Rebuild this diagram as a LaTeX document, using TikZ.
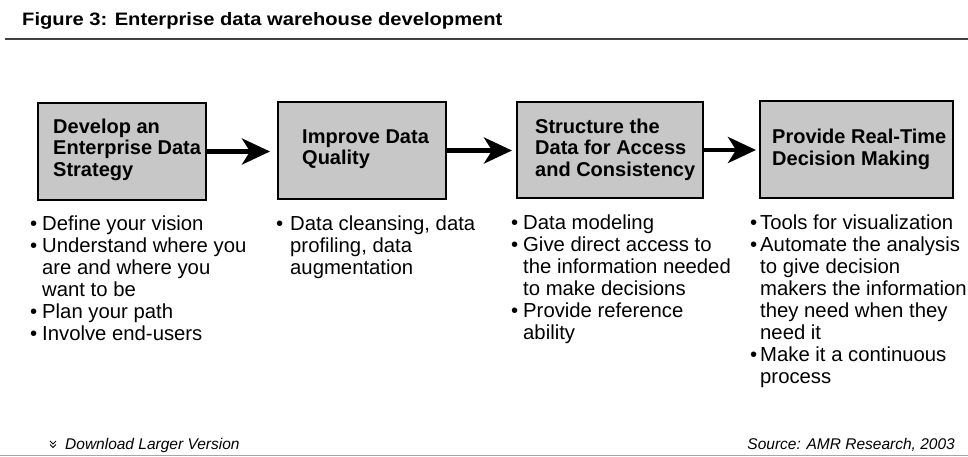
\documentclass[tikz,border=0pt]{standalone}
\usepackage{fontspec}
\setmainfont{Liberation Sans}
\newfontfamily\titlefont[FakeStretch=1.12]{Liberation Sans}
\usetikzlibrary{arrows.meta}
\newcommand\blt[1]{\makebox[#1][l]{\textbullet}}
\newcommand\ind[1]{\hspace*{#1}}
\begin{document}
\begin{tikzpicture}[x=1pt,y=-1pt,
  stagebox/.style={draw=black,line width=2pt,fill=black!22,inner sep=0pt},
  stagetext/.style={anchor=west,align=left,inner sep=0pt,font=\fontsize{20}{21.5}\selectfont\bfseries},
  bullets/.style={anchor=north west,align=left,inner sep=0pt,font=\fontsize{20.3}{22}\selectfont},
  flow/.style={line width=4.5pt,-{Stealth[length=28pt,width=26pt,inset=8pt]}},
  foot/.style={inner sep=0pt,font=\fontsize{15.5}{18}\selectfont\itshape}]
\useasboundingbox (0,0) rectangle (968,456);
\fill[white] (0,0) rectangle (968,456);
% title
\node[anchor=base west,inner sep=0pt,font=\titlefont\fontsize{18}{20}\selectfont\bfseries] (title) at (22,25) {Figure 3: Enterprise data warehouse development};
\draw[line width=1.3pt,black!75] (5,39) -- (968,39);
% boxes
\node[stagebox,minimum width=168pt,minimum height=97pt] (b1) at (122,151.5) {};
\node[stagebox,minimum width=168pt,minimum height=97pt] (b2) at (362,150.5) {};
\node[stagebox,minimum width=186pt,minimum height=96pt] (b3) at (610,150) {};
\node[stagebox,minimum width=193pt,minimum height=97pt] (b4) at (856.5,149.5) {};
\node[stagetext] (t1) at (53,149.5) {Develop an\\Enterprise Data\\Strategy};
\node[stagetext] (t2) at (302,149) {Improve Data\\Quality};
\node[stagetext] (t3) at (535,149.5) {Structure the\\Data for Access\\and Consistency};
\node[stagetext] (t4) at (772,149.5) {Provide Real-Time\\Decision Making};
% arrows
\draw[flow,shorten >=7pt] (b1.east) -- (b1.east -| b2.west);
\draw[flow,shorten >=4pt] (b2.east) -- (b2.east -| b3.west);
\draw[flow,shorten >=3pt] (b3.east) -- (b3.east -| b4.west);
% bullet lists
\node[bullets] (l1) at (30,216) {\blt{12pt}Define your vision\\\blt{12pt}Understand where you\\\ind{12pt}are and where you\\\ind{12pt}want to be\\\blt{12pt}Plan your path\\\blt{12pt}Involve end-users};
\node[bullets] (l2) at (276,216) {\blt{14pt}Data cleansing, data\\\ind{14pt}profiling, data\\\ind{14pt}augmentation};
\node[bullets] (l3) at (511,215) {\blt{12pt}Data modeling\\\blt{12pt}Give direct access to\\\ind{12pt}the information needed\\\ind{12pt}to make decisions\\\blt{12pt}Provide reference\\\ind{12pt}ability};
\node[bullets] (l4) at (750,215) {\blt{10pt}Tools for visualization\\\blt{10pt}Automate the analysis\\\ind{10pt}to give decision\\\ind{10pt}makers the information\\\ind{10pt}they need when they\\\ind{10pt}need it\\\blt{10pt}Make it a continuous\\\ind{10pt}process};
% footer
\draw[line width=0.9pt] (50,441) -- (53,444) -- (56,441) (50,444.5) -- (53,447.5) -- (56,444.5);
\node[foot,anchor=base west] (dl) at (65,449) {Download Larger Version};
\node[foot,anchor=base east] (src) at (955,449) {Source: AMR Research, 2003};
\draw[black!35,line width=1pt] (0,455) -- (968,455);
\end{tikzpicture}
\end{document}
